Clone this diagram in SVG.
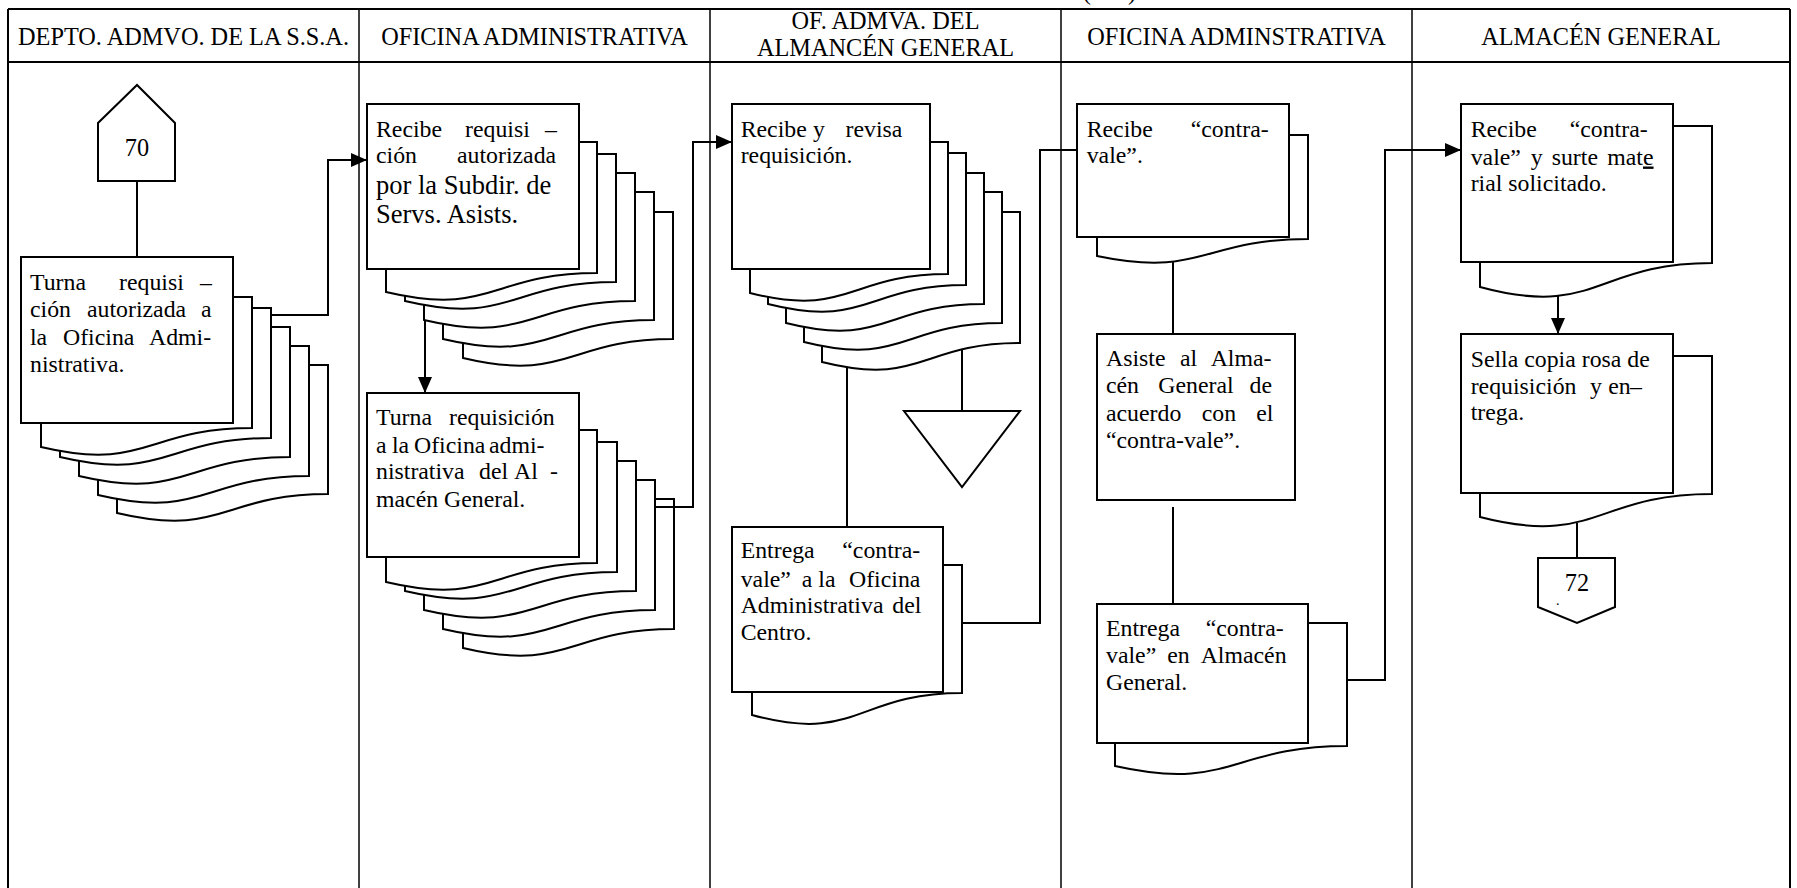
<svg xmlns="http://www.w3.org/2000/svg" width="1797" height="888" viewBox="0 0 1797 888">
<style>
text{font-family:"Liberation Serif","Times New Roman",serif;font-size:23.8px;fill:#000}
.hd{text-anchor:middle;font-size:24.3px}
.big{font-size:26.5px}
.grid{stroke:#000;stroke-width:1.5;fill:none}
.frame{stroke:#000;stroke-width:2;fill:none}
.box{fill:#fff;stroke:#000;stroke-width:2}
.doc{fill:#fff;stroke:#000;stroke-width:2;stroke-linejoin:miter}
.ln{fill:none;stroke:#000;stroke-width:2}
.ar{fill:none;stroke:#000;stroke-width:2;marker-end:url(#arrow)}
</style>
<defs>
<marker id="arrow" markerUnits="userSpaceOnUse" markerWidth="16" markerHeight="14" refX="16" refY="7" orient="auto">
<path d="M0,0 L16,7 L0,14 Z" fill="#000"/>
</marker>
</defs>

<!-- swimlane table -->
<g id="table">
<line class="frame" x1="8" y1="9" x2="1790" y2="9"/>
<line class="frame" x1="8" y1="62" x2="1790" y2="62"/>
<line class="frame" x1="8" y1="9" x2="8" y2="888"/>
<line class="frame" x1="1790" y1="9" x2="1790" y2="888"/>
<line class="grid" x1="359" y1="9" x2="359" y2="888"/>
<line class="grid" x1="710" y1="9" x2="710" y2="888"/>
<line class="grid" x1="1061" y1="9" x2="1061" y2="888"/>
<line class="grid" x1="1412" y1="9" x2="1412" y2="888"/>
<text x="1083" y="0">(</text><text x="1128" y="0">)</text>
<text class="hd" x="183.5" y="45">DEPTO. ADMVO. DE LA S.S.A.</text>
<text class="hd" x="534.5" y="45">OFICINA ADMINISTRATIVA</text>
<text class="hd" x="885.5" y="29">OF. ADMVA. DEL</text>
<text class="hd" x="885.5" y="56">ALMANCÉN GENERAL</text>
<text class="hd" x="1236.5" y="45">OFICINA ADMINSTRATIVA</text>
<text class="hd" x="1601" y="45">ALMACÉN GENERAL</text>
</g>

<!-- start connector 70 -->
<g id="n70">
<path class="box" d="M98,181 V123 L137,85 L175,123 V181 Z"/>
<text class="hd" x="137" y="156">70</text>
</g>

<!-- Turna requisición (multiple copies) -->
<g id="a1">
<path class="doc" d="M117,365 H328 V494 C222.5,494 222.5,538 117,513 Z"/>
<path class="doc" d="M98,346 H309 V476 C203.5,476 203.5,520 98,495 Z"/>
<path class="doc" d="M79,327 H290 V457 C184.5,457 184.5,501 79,476 Z"/>
<path class="doc" d="M60,308 H271 V438 C165.5,438 165.5,482 60,457 Z"/>
<path class="doc" d="M41,297 H252 V428 C146.5,428 146.5,472 41,447 Z"/>
<rect class="box" x="21" y="257" width="212" height="166"/>
<text y="290"><tspan x="30">Turna</tspan><tspan x="119">requisi</tspan><tspan x="200">–</tspan></text>
<text y="317"><tspan x="30">ción</tspan><tspan x="87">autorizada</tspan><tspan x="201">a</tspan></text>
<text y="345"><tspan x="30">la</tspan><tspan x="63">Oficina</tspan><tspan x="149">Admi-</tspan></text>
<text x="30" y="372">nistrativa.</text>
</g>

<!-- Recibe requisición autorizada -->
<g id="b1">
<path class="doc" d="M463,212 H673 V339 C568,339 568,383 463,358 Z"/>
<path class="doc" d="M443,192 H654 V320 C548.5,320 548.5,364 443,339 Z"/>
<path class="doc" d="M424,173 H635 V301 C529.5,301 529.5,345 424,320 Z"/>
<path class="doc" d="M405,154 H616 V282 C510.5,282 510.5,326 405,301 Z"/>
<path class="doc" d="M386,142 H597 V273 C491.5,273 491.5,317 386,292 Z"/>
<rect class="box" x="367" y="104" width="212" height="165"/>
<text y="136.7"><tspan x="376">Recibe</tspan><tspan x="465">requisi</tspan><tspan x="545">–</tspan></text>
<text y="163.3"><tspan x="376">ción</tspan><tspan x="457">autorizada</tspan></text>
<text class="big" x="376" y="194.3">por la Subdir. de</text>
<text class="big" x="376" y="223.3">Servs. Asists.</text>
</g>

<!-- Turna requisición a la oficina del almacén -->
<g id="b2">
<path class="doc" d="M463,499 H674 V629 C568.5,629 568.5,673 463,648 Z"/>
<path class="doc" d="M443,480 H655 V610 C549,610 549,654 443,629 Z"/>
<path class="doc" d="M424,461 H636 V591 C530,591 530,635 424,610 Z"/>
<path class="doc" d="M405,442 H617 V572 C511,572 511,616 405,591 Z"/>
<path class="doc" d="M386,430 H597 V563 C491.5,563 491.5,607 386,582 Z"/>
<rect class="box" x="367" y="393" width="212" height="164"/>
<text y="425"><tspan x="376">Turna</tspan><tspan x="449">requisición</tspan></text>
<text y="452.7"><tspan x="376">a</tspan><tspan x="392">la</tspan><tspan x="414">Oficina</tspan><tspan x="489">admi-</tspan></text>
<text y="479.3"><tspan x="376">nistrativa</tspan><tspan x="479">del</tspan><tspan x="514">Al</tspan><tspan x="550">-</tspan></text>
<text x="376" y="506.7">macén General.</text>
</g>

<!-- Recibe y revisa requisición -->
<g id="c1">
<path class="doc" d="M822,212 H1020 V343 C921,343 921,387 822,362 Z"/>
<path class="doc" d="M804,192 H1002 V323 C903,323 903,367 804,342 Z"/>
<path class="doc" d="M786,173 H984 V304 C885,304 885,348 786,323 Z"/>
<path class="doc" d="M768,153 H966 V285 C867,285 867,329 768,304 Z"/>
<path class="doc" d="M750,142 H948 V274 C849,274 849,318 750,293 Z"/>
<rect class="box" x="732" y="104" width="198" height="165"/>
<text y="136.7"><tspan x="740.7">Recibe</tspan><tspan x="813">y</tspan><tspan x="845.5">revisa</tspan></text>
<text x="740.7" y="163.3">requisición.</text>
</g>

<!-- archivo -->
<g id="c3">
<path class="box" d="M904,411 H1020 L962,487 Z"/>
</g>

<!-- Entrega contra-vale a la Oficina Administrativa -->
<g id="c2">
<path class="doc" d="M752,565 H962 V693 C857,693 857,744 752,715 Z"/>
<rect class="box" x="732" y="527" width="211" height="165"/>
<text y="558.3"><tspan x="740.7">Entrega</tspan><tspan x="842.3">“contra-</tspan></text>
<text y="586.7"><tspan x="740.7">vale”</tspan><tspan x="801.7">a</tspan><tspan x="818.3">la</tspan><tspan x="849">Oficina</tspan></text>
<text y="613.3"><tspan x="740.7">Administrativa</tspan><tspan x="892.3">del</tspan></text>
<text x="740.7" y="640">Centro.</text>
</g>

<!-- Recibe contra-vale -->
<g id="d1">
<path class="doc" d="M1097,135 H1308 V239 C1202.5,239 1202.5,278 1097,256 Z"/>
<rect class="box" x="1077" y="104" width="212" height="133"/>
<text y="136.7"><tspan x="1086.7">Recibe</tspan><tspan x="1190.7">“contra-</tspan></text>
<text x="1086.7" y="163.3">vale”.</text>
</g>

<!-- Asiste al Almacén General -->
<g id="d2">
<rect class="box" x="1097" y="334" width="198" height="166"/>
<text y="366"><tspan x="1106">Asiste</tspan><tspan x="1180">al</tspan><tspan x="1210.7">Alma-</tspan></text>
<text y="393.3"><tspan x="1106">cén</tspan><tspan x="1158.3">General</tspan><tspan x="1249.5">de</tspan></text>
<text y="420.7"><tspan x="1106">acuerdo</tspan><tspan x="1201.7">con</tspan><tspan x="1256.3">el</tspan></text>
<text x="1106" y="448.3">“contra-vale”.</text>
</g>

<!-- Entrega contra-vale en Almacén General -->
<g id="d3">
<path class="doc" d="M1115,623 H1347 V746 C1231,746 1231,792 1115,766 Z"/>
<rect class="box" x="1097" y="604" width="211" height="139"/>
<text y="636"><tspan x="1106">Entrega</tspan><tspan x="1205.7">“contra-</tspan></text>
<text y="662.7"><tspan x="1106">vale”</tspan><tspan x="1167.3">en</tspan><tspan x="1200.7">Almacén</tspan></text>
<text x="1106" y="690">General.</text>
</g>

<!-- Recibe contra-vale y surte material -->
<g id="e1">
<path class="doc" d="M1480,126 H1712 V263 C1596,263 1596,318.6 1480,287 Z"/>
<rect class="box" x="1461" y="104" width="212" height="158"/>
<text y="136.7"><tspan x="1470.7">Recibe</tspan><tspan x="1569.7">“contra-</tspan></text>
<text y="164.5"><tspan x="1470.7">vale”</tspan><tspan x="1530.7">y</tspan><tspan x="1551.7">surte</tspan><tspan x="1607.3">mat</tspan><tspan text-decoration="underline">e</tspan></text>
<text x="1470.7" y="190.5">rial solicitado.</text>
</g>

<!-- Sella copia rosa -->
<g id="e2">
<path class="doc" d="M1480,356 H1712 V494 C1596,494 1596,547 1480,517 Z"/>
<rect class="box" x="1461" y="334" width="212" height="159"/>
<text x="1470.7" y="366.7">Sella copia rosa de</text>
<text y="394"><tspan x="1470.7">requisición</tspan><tspan x="1590">y</tspan><tspan x="1608.3">en</tspan><tspan x="1630">–</tspan></text>
<text x="1470.7" y="420">trega.</text>
</g>

<!-- off-page connector 72 -->
<g id="n72">
<path class="box" d="M1538,558 H1615 V607 L1577,623 L1538,607 Z"/>
<text class="hd" x="1577" y="591">72</text>
<text x="1556" y="605" style="font-size:14px">.</text>
</g>

<g id="connectors">
<line class="ln" x1="137" y1="181" x2="137" y2="257"/>
<polyline class="ar" points="271,315 328,315 328,160 367,160"/>
<line class="ar" x1="425" y1="320" x2="425" y2="393"/>
<polyline class="ar" points="655,507 693,507 693,142 732,142"/>
<line class="ln" x1="847" y1="368" x2="847" y2="527"/>
<line class="ln" x1="962" y1="350" x2="962" y2="411"/>
<polyline class="ln" points="962,623 1040,623 1040,150 1077,150"/>
<line class="ln" x1="1173" y1="262" x2="1173" y2="334"/>
<line class="ln" x1="1173" y1="507" x2="1173" y2="604"/>
<polyline class="ar" points="1347,680 1385,680 1385,150 1461,150"/>
<line class="ar" x1="1558" y1="296" x2="1558" y2="334"/>
<line class="ln" x1="1577" y1="523" x2="1577" y2="558"/>
</g>
</svg>
